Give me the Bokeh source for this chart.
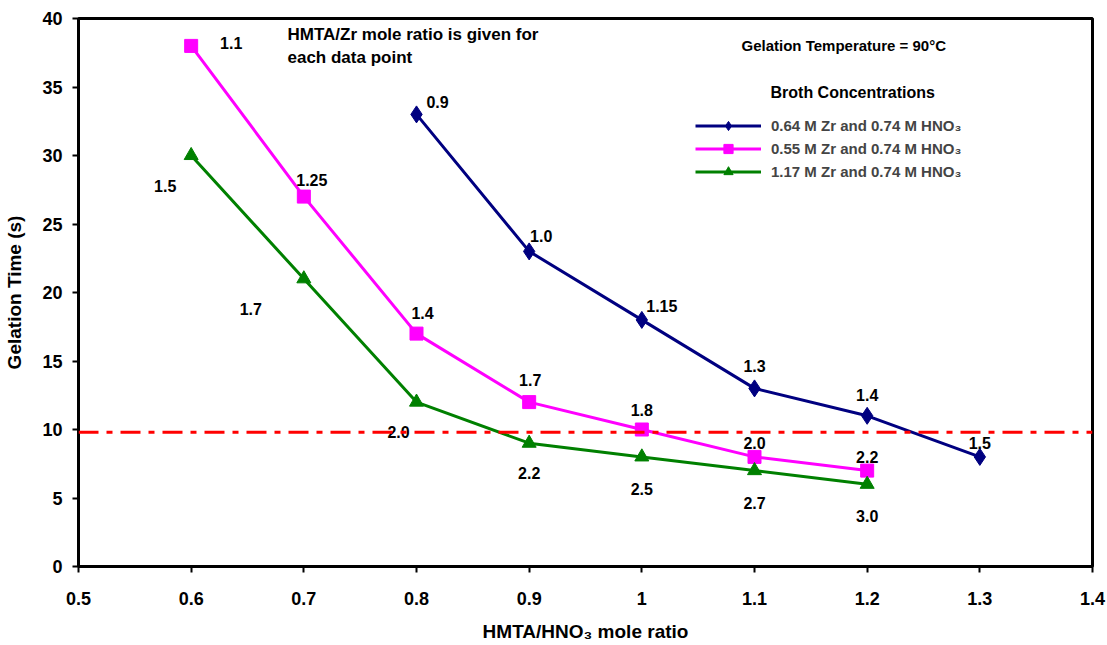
from bokeh.plotting import figure
from bokeh.models import (ColumnDataSource, Span, Label, Legend, LegendItem,
                          FixedTicker, Range1d)
from bokeh.core.properties import value
from bokeh.embed import file_html
from bokeh.resources import INLINE

# ---- data ----
blue_x = [0.8, 0.9, 1.0, 1.1, 1.2, 1.3]
blue_y = [33, 23, 18, 13, 11, 8]
blue_lbl = ["0.9", "1.0", "1.15", "1.3", "1.4", "1.5"]

mag_x = [0.6, 0.7, 0.8, 0.9, 1.0, 1.1, 1.2]
mag_y = [38, 27, 17, 12, 10, 8, 7]
mag_lbl = ["1.1", "1.25", "1.4", "1.7", "1.8", "2.0", "2.2"]

grn_x = [0.6, 0.7, 0.8, 0.9, 1.0, 1.1, 1.2]
grn_y = [30, 21, 12, 9, 8, 7, 6]
grn_lbl = ["1.5", "1.7", "2.0", "2.2", "2.5", "2.7", "3.0"]

series_names = ["0.64 M Zr and 0.74 M HNO\u2083",
                "0.55 M Zr and 0.74 M HNO\u2083",
                "1.17 M Zr and 0.74 M HNO\u2083"]
limit_y = 9.8
x_ticks = [0.5, 0.6, 0.7, 0.8, 0.9, 1.0, 1.1, 1.2, 1.3, 1.4]
y_ticks = [0, 5, 10, 15, 20, 25, 30, 35, 40]

# ---- label offsets (screen px) ----
blue_dx = [21, 12, 20, 0, 0, 0]
blue_dy = [-12, -15, -14, -22, -21, -14]
mag_dx = [40, 8, 6, 1, 0, 0, 0]
mag_dy = [-3, -17, -21, -22, -20, -14, -14]
grn_dx = [-26, -53, -18, 0, 0, 0, 0]
grn_dy = [30, 30, 30, 30, 32, 32, 32]

FONT = "Liberation Sans"

p = figure(width=1107, height=645, output_backend="svg", toolbar_location=None,
           x_range=Range1d(0.5, 1.4), y_range=Range1d(0, 40))
p.min_border_left = 78
p.min_border_right = 15
p.min_border_top = 18
p.min_border_bottom = 79
p.xgrid.visible = False
p.ygrid.visible = False
p.outline_line_color = "black"
p.outline_line_width = 3
p.background_fill_color = "white"
p.border_fill_color = "white"

for ax in (p.xaxis[0], p.yaxis[0]):
    ax.axis_line_width = 3
    ax.axis_line_color = "black"
    ax.major_tick_line_width = 2
    ax.major_tick_out = 6
    ax.major_tick_in = 0
    ax.minor_tick_line_color = None
    ax.major_label_text_font = FONT
    ax.major_label_text_font_style = "bold"
    ax.major_label_text_font_size = "18px"
    ax.major_label_text_color = "black"
    ax.axis_label_text_font = FONT
    ax.axis_label_text_font_style = "bold"
    ax.axis_label_text_font_size = "19px"
    ax.axis_label_text_color = "black"

p.xaxis.ticker = FixedTicker(ticks=x_ticks)
p.yaxis.ticker = FixedTicker(ticks=y_ticks)
p.xaxis.major_label_overrides = {t: ("1" if t == 1.0 else f"{t:g}") for t in x_ticks}
p.xaxis.axis_label = "HMTA/HNO\u2083 mole ratio"
p.yaxis.axis_label = "Gelation Time (s)"
p.xaxis.major_label_standoff = 19
p.yaxis.major_label_standoff = 10
p.xaxis.axis_label_standoff = 13
p.yaxis.axis_label_standoff = 14

p.add_layout(Span(location=limit_y, dimension="width", line_color="red",
                  line_width=3, line_dash="20 8 6 8"))

colors = ["#000080", "#FF00FF", "#008000"]
items = []
for (xs, ys, lbls, dx, dy, col, marker, sz, name) in [
        (blue_x, blue_y, blue_lbl, blue_dx, blue_dy, colors[0], "diamond", 17, series_names[0]),
        (mag_x, mag_y, mag_lbl, mag_dx, mag_dy, colors[1], "square", 13, series_names[1]),
        (grn_x, grn_y, grn_lbl, grn_dx, grn_dy, colors[2], "triangle", 14, series_names[2])]:
    src = ColumnDataSource(dict(x=xs, y=ys, lbl=lbls, dx=dx, dy=dy))
    r1 = p.line("x", "y", source=src, line_color=col, line_width=3)
    r2 = p.scatter("x", "y", source=src, marker=marker, size=sz,
                   fill_color=col, line_color=col)
    p.text("x", "y", text="lbl", source=src, x_offset="dx", y_offset="dy",
           text_font=value(FONT), text_font_style="bold", text_font_size="16px",
           text_align="center", text_baseline="middle", text_color="black")
    items.append(LegendItem(label=name, renderers=[r1, r2]))

legend = Legend(items=items, location=(617, 383), padding=0, margin=0,
                glyph_width=66, glyph_height=23, label_height=23, spacing=0,
                label_standoff=10,
                label_text_font=FONT, label_text_font_style="bold",
                label_text_font_size="15px", border_line_color=None,
                background_fill_alpha=0)
p.add_layout(legend)

for txt, sx, sy, fs in [("HMTA/Zr mole ratio is given for", 287, 34, "17px"),
                        ("each data point", 287, 57, "17px"),
                        ("Gelation Temperature = 90\u00b0C", 741, 45, "15px"),
                        ("Broth Concentrations", 770, 92, "16px")]:
    p.add_layout(Label(x=sx - 78, y=566 - sy, x_units="screen", y_units="screen",
                       text=txt, text_font=FONT, text_font_style="bold",
                       text_font_size=fs, text_baseline="middle",
                       text_color="black"))

open("out.html", "w").write(file_html(p, INLINE))
